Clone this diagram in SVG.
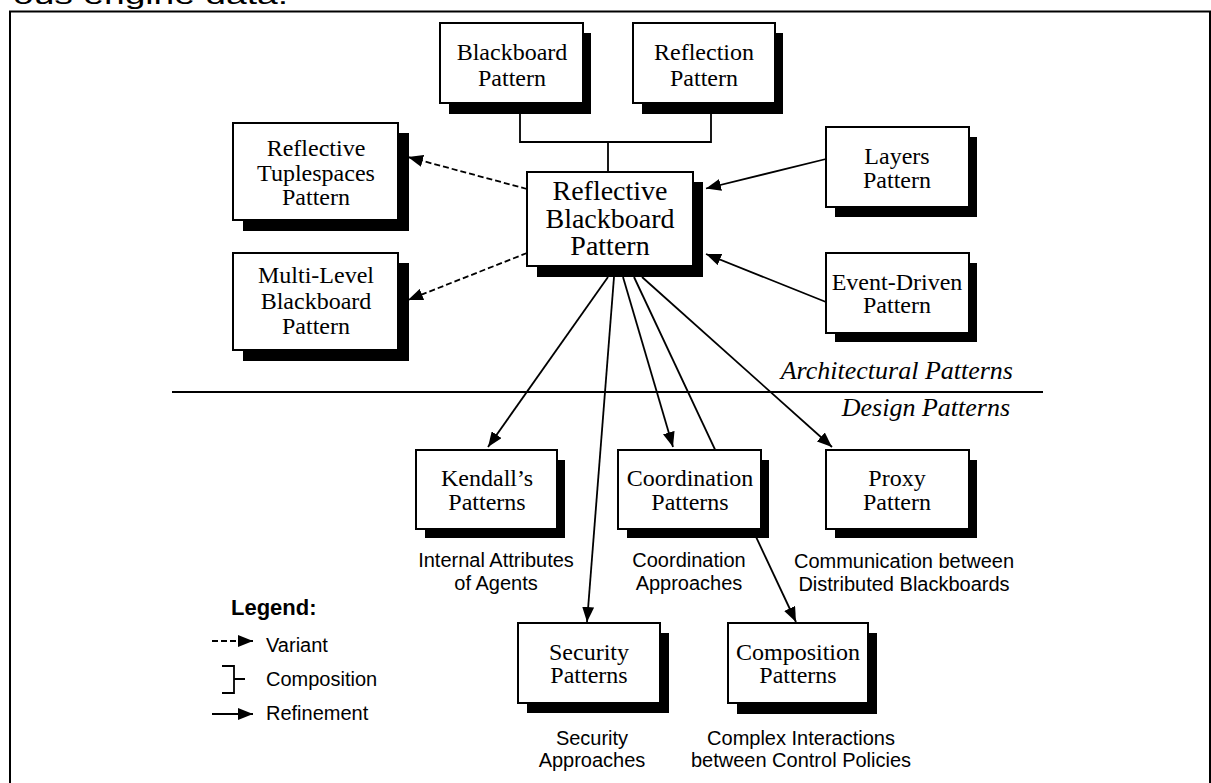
<svg xmlns="http://www.w3.org/2000/svg" width="1211" height="783" viewBox="0 0 1211 783">
<style>
.sh{fill:#000}
.bx{fill:#fff;stroke:#000;stroke-width:2}
.nt{font-family:"Liberation Serif","Times New Roman",serif;font-size:24px;text-anchor:middle;fill:#000}
.big{font-size:28px}
.cap{font-family:"Liberation Sans",Arial,sans-serif;font-size:20px;text-anchor:middle;fill:#000}
.lg{font-family:"Liberation Sans",Arial,sans-serif;font-size:20px;fill:#000}
.it{font-family:"Liberation Serif","Times New Roman",serif;font-size:26px;font-style:italic;fill:#000}
.ln{fill:none;stroke:#000;stroke-width:1.8}
.ds{fill:none;stroke:#000;stroke-width:1.8;stroke-dasharray:6,3}
</style>
<defs>
<marker id="ah" viewBox="0 0 15 12" refX="15" refY="6" markerWidth="15" markerHeight="12" markerUnits="userSpaceOnUse" orient="auto">
<path d="M0,0 L15,6 L0,12 z" fill="#000"/>
</marker>
</defs>
<rect width="1211" height="783" fill="#fff"/>
<text x="13" y="4" font-family="Liberation Sans, Arial, sans-serif" font-size="26" textLength="275" lengthAdjust="spacingAndGlyphs" fill="#000">ous engine data.</text>
<rect x="10" y="11.5" width="1200" height="790" fill="none" stroke="#000" stroke-width="2"/>

<g id="connectors">
<path class="ln" d="M520,103 V142 H711 V103 M608,142 V172"/>
<line class="ds" x1="527" y1="189" x2="408" y2="157" marker-end="url(#ah)"/>
<line class="ds" x1="527" y1="253" x2="408" y2="300" marker-end="url(#ah)"/>
<line class="ln" x1="826" y1="159" x2="706" y2="188.5" marker-end="url(#ah)"/>
<line class="ln" x1="826" y1="302" x2="706" y2="254" marker-end="url(#ah)"/>
<line class="ln" x1="608" y1="277" x2="488" y2="447" marker-end="url(#ah)"/>
<line class="ln" x1="614" y1="277" x2="587" y2="622" marker-end="url(#ah)"/>
<line class="ln" x1="623" y1="277" x2="673" y2="447" marker-end="url(#ah)"/>
<line class="ln" x1="634" y1="277" x2="796" y2="622" marker-end="url(#ah)"/>
<line class="ln" x1="642" y1="277" x2="832" y2="447" marker-end="url(#ah)"/>
<line x1="172" y1="392" x2="1043" y2="392" stroke="#000" stroke-width="1.8"/>
</g>

<text class="it" x="1013" y="379" text-anchor="end">Architectural Patterns</text>
<text class="it" x="1010" y="416" text-anchor="end">Design Patterns</text>

<g id="blackboard">
<rect class="sh" x="449" y="33" width="142" height="81"/>
<rect class="bx" x="440" y="23" width="143" height="80"/>
<text class="nt" x="512" y="60">Blackboard</text>
<text class="nt" x="512" y="86">Pattern</text>
</g>
<g id="reflection">
<rect class="sh" x="642" y="33" width="141" height="81"/>
<rect class="bx" x="633" y="23" width="142" height="80"/>
<text class="nt" x="704" y="60">Reflection</text>
<text class="nt" x="704" y="86">Pattern</text>
</g>
<g id="reflective-blackboard">
<rect class="sh" x="537" y="182" width="166" height="95"/>
<rect class="bx" x="527" y="172" width="166" height="94"/>
<text class="nt big" x="610" y="200">Reflective</text>
<text class="nt big" x="610" y="228">Blackboard</text>
<text class="nt big" x="610" y="255">Pattern</text>
</g>
<g id="tuplespaces">
<rect class="sh" x="243" y="133" width="166" height="98"/>
<rect class="bx" x="233" y="123" width="165" height="97"/>
<text class="nt" x="316" y="156">Reflective</text>
<text class="nt" x="316" y="181">Tuplespaces</text>
<text class="nt" x="316" y="205">Pattern</text>
</g>
<g id="multilevel">
<rect class="sh" x="243" y="263" width="166" height="98"/>
<rect class="bx" x="233" y="253" width="165" height="97"/>
<text class="nt" x="316" y="283">Multi-Level</text>
<text class="nt" x="316" y="309">Blackboard</text>
<text class="nt" x="316" y="334">Pattern</text>
</g>
<g id="layers">
<rect class="sh" x="835" y="137" width="142" height="80"/>
<rect class="bx" x="826" y="127" width="143" height="80"/>
<text class="nt" x="897" y="164">Layers</text>
<text class="nt" x="897" y="188">Pattern</text>
</g>
<g id="eventdriven">
<rect class="sh" x="835" y="263" width="142" height="79"/>
<rect class="bx" x="826" y="253" width="143" height="80"/>
<text class="nt" x="897" y="290">Event-Driven</text>
<text class="nt" x="897" y="313">Pattern</text>
</g>
<g id="kendall">
<rect class="sh" x="425" y="460" width="140" height="78"/>
<rect class="bx" x="416" y="450" width="141" height="79"/>
<text class="nt" x="487" y="486">Kendall’s</text>
<text class="nt" x="487" y="510">Patterns</text>
<text class="cap" x="496" y="567">Internal Attributes</text>
<text class="cap" x="496" y="590">of Agents</text>
</g>
<g id="coordination">
<rect class="sh" x="627" y="460" width="142" height="78"/>
<rect class="bx" x="618" y="450" width="143" height="79"/>
<text class="nt" x="690" y="486">Coordination</text>
<text class="nt" x="690" y="510">Patterns</text>
<text class="cap" x="689" y="567">Coordination</text>
<text class="cap" x="689" y="590">Approaches</text>
</g>
<g id="proxy">
<rect class="sh" x="835" y="460" width="142" height="78"/>
<rect class="bx" x="826" y="450" width="143" height="79"/>
<text class="nt" x="897" y="486">Proxy</text>
<text class="nt" x="897" y="510">Pattern</text>
<text class="cap" x="904" y="568">Communication between</text>
<text class="cap" x="904" y="591">Distributed Blackboards</text>
</g>
<g id="security">
<rect class="sh" x="527" y="633" width="142" height="80"/>
<rect class="bx" x="518" y="623" width="142" height="80"/>
<text class="nt" x="589" y="660">Security</text>
<text class="nt" x="589" y="683">Patterns</text>
<text class="cap" x="592" y="745">Security</text>
<text class="cap" x="592" y="767">Approaches</text>
</g>
<g id="composition">
<rect class="sh" x="737" y="633" width="140" height="81"/>
<rect class="bx" x="728" y="623" width="140" height="80"/>
<text class="nt" x="798" y="660">Composition</text>
<text class="nt" x="798" y="683">Patterns</text>
<text class="cap" x="801" y="745">Complex Interactions</text>
<text class="cap" x="801" y="767">between Control Policies</text>
</g>

<g id="legend">
<text x="231" y="615" font-family="Liberation Sans, Arial, sans-serif" font-size="22" font-weight="bold">Legend:</text>
<line class="ds" x1="212" y1="641" x2="253" y2="641" stroke-dasharray="5,3" marker-end="url(#ah)"/>
<text class="lg" x="266" y="652">Variant</text>
<path class="ln" d="M222,666 H234 V693 H222 M234,679 H245"/>
<text class="lg" x="266" y="686">Composition</text>
<line class="ln" x1="212" y1="714" x2="253" y2="714" marker-end="url(#ah)"/>
<text class="lg" x="266" y="720">Refinement</text>
</g>
</svg>
